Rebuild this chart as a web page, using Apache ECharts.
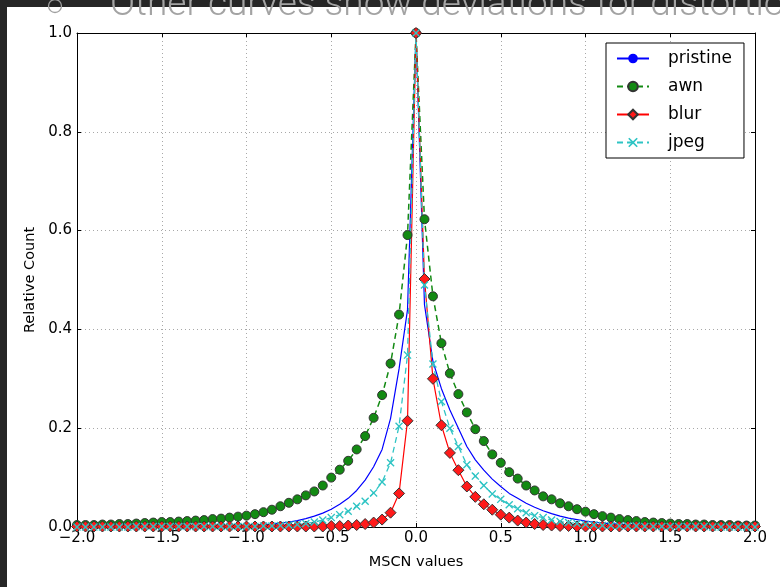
<!DOCTYPE html>
<html>
<head>
<meta charset="utf-8">
<script src="https://cdn.jsdelivr.net/npm/echarts@6/dist/echarts.min.js"></script>
<style>
html,body{margin:0;padding:0;background:#fff;}
#chart{width:780px;height:587px;}
</style>
</head>
<body>
<div id="chart"></div>
<script>
// ---- data ----
const xValues = [-2.00,-1.95,-1.90,-1.85,-1.80,-1.75,-1.70,-1.65,-1.60,-1.55,
  -1.50,-1.45,-1.40,-1.35,-1.30,-1.25,-1.20,-1.15,-1.10,-1.05,
  -1.00,-0.95,-0.90,-0.85,-0.80,-0.75,-0.70,-0.65,-0.60,-0.55,
  -0.50,-0.45,-0.40,-0.35,-0.30,-0.25,-0.20,-0.15,-0.10,-0.05,
  0.00,
  0.05,0.10,0.15,0.20,0.25,0.30,0.35,0.40,0.45,0.50,
  0.55,0.60,0.65,0.70,0.75,0.80,0.85,0.90,0.95,1.00,
  1.05,1.10,1.15,1.20,1.25,1.30,1.35,1.40,1.45,1.50,
  1.55,1.60,1.65,1.70,1.75,1.80,1.85,1.90,1.95,2.00];

const pristine = [0.000,0.000,0.000,0.000,0.000,0.001,0.001,0.001,0.001,0.001,
  0.001,0.001,0.001,0.001,0.001,0.002,0.002,0.002,0.002,0.002,
  0.003,0.004,0.005,0.006,0.008,0.010,0.013,0.017,0.022,0.028,
  0.036,0.046,0.058,0.074,0.095,0.122,0.157,0.220,0.320,0.440,
  1.000,
  0.450,0.335,0.280,0.237,0.200,0.163,0.136,0.115,0.097,0.082,
  0.068,0.058,0.048,0.040,0.033,0.027,0.022,0.018,0.015,0.012,
  0.010,0.008,0.007,0.006,0.005,0.004,0.003,0.003,0.002,0.002,
  0.002,0.001,0.001,0.001,0.001,0.001,0.001,0.000,0.000,0.000];

const awn = [0.004,0.004,0.004,0.005,0.005,0.006,0.006,0.007,0.008,0.009,
  0.010,0.010,0.011,0.012,0.013,0.014,0.016,0.017,0.019,0.021,
  0.023,0.026,0.030,0.035,0.042,0.049,0.056,0.064,0.072,0.084,
  0.100,0.116,0.134,0.157,0.184,0.221,0.267,0.331,0.430,0.591,
  1.000,
  0.623,0.467,0.372,0.311,0.269,0.232,0.198,0.174,0.147,0.130,
  0.111,0.098,0.084,0.074,0.062,0.056,0.048,0.042,0.036,0.031,
  0.026,0.022,0.019,0.016,0.014,0.012,0.010,0.009,0.008,0.007,
  0.006,0.006,0.005,0.005,0.004,0.004,0.004,0.003,0.003,0.003];

const blur = [0.001,0.001,0.001,0.001,0.001,0.001,0.001,0.001,0.001,0.001,
  0.001,0.001,0.001,0.001,0.001,0.001,0.001,0.001,0.001,0.001,
  0.001,0.001,0.001,0.001,0.001,0.001,0.001,0.001,0.001,0.001,
  0.002,0.002,0.003,0.004,0.006,0.009,0.015,0.029,0.068,0.215,
  1.000,
  0.502,0.300,0.206,0.150,0.115,0.082,0.061,0.046,0.035,0.025,
  0.019,0.013,0.009,0.006,0.004,0.003,0.002,0.002,0.001,0.001,
  0.001,0.001,0.001,0.001,0.001,0.001,0.001,0.001,0.001,0.001,
  0.001,0.001,0.001,0.001,0.001,0.001,0.001,0.001,0.001,0.001];

const jpeg = [0.000,0.000,0.000,0.000,0.000,0.000,0.000,0.001,0.001,0.001,
  0.001,0.001,0.001,0.001,0.001,0.001,0.001,0.001,0.001,0.001,
  0.001,0.001,0.002,0.002,0.003,0.004,0.005,0.007,0.010,0.014,
  0.019,0.025,0.032,0.042,0.052,0.069,0.091,0.130,0.204,0.348,
  1.000,
  0.490,0.330,0.254,0.200,0.163,0.126,0.103,0.084,0.067,0.056,
  0.045,0.037,0.029,0.023,0.019,0.014,0.011,0.009,0.007,0.005,
  0.004,0.003,0.003,0.002,0.002,0.002,0.001,0.001,0.001,0.001,
  0.001,0.001,0.001,0.001,0.000,0.000,0.000,0.000,0.000,0.000];

const seriesNames = ['pristine','awn','blur','jpeg'];
const xTickLabels = ['\u22122.0','\u22121.5','\u22121.0','\u22120.5','0.0','0.5','1.0','1.5','2.0'];
const yTickLabels = ['0.0','0.2','0.4','0.6','0.8','1.0'];
const xAxisTitle = 'MSCN values';
const yAxisTitle = 'Relative Count';
const slideText = 'Other curves show deviations for distortions';

// ---- chart ----
const pairs = arr => xValues.map((x, i) => [x, arr[i]]);
const xFmt = v => xTickLabels[Math.round((v + 2) / 0.5)] || '';
const yFmt = v => yTickLabels[Math.round(v / 0.2)] || '';
const FONT = 'DejaVu Sans';
const xMark = 'path://M0,1.2 L1.2,0 L5,3.8 L8.8,0 L10,1.2 L6.2,5 L10,8.8 L8.8,10 L5,6.2 L1.2,10 L0,8.8 L3.8,5 Z';

const chart = echarts.init(document.getElementById('chart'), null, {renderer: 'canvas'});
const gridLine = {show: true, lineStyle: {color: '#a8a8a8', type: [1, 3], width: 1}};
const frameLine = {show: true, onZero: false, lineStyle: {color: '#000', width: 1}};
const tick = {show: true, inside: true, length: 4, lineStyle: {color: '#000'}};
chart.setOption({
  animation: false,
  backgroundColor: '#ffffff',
  grid: {left: 77, right: 25, top: 33, bottom: 60, containLabel: false},
  xAxis: [{
    type: 'value', min: -2, max: 2, interval: 0.5,
    axisLine: frameLine, axisTick: tick,
    axisLabel: {formatter: xFmt, color: '#000', fontFamily: FONT, fontSize: 15, margin: 4},
    splitLine: gridLine,
    name: xAxisTitle, nameLocation: 'middle', nameGap: 28,
    nameTextStyle: {color: '#000', fontFamily: FONT, fontSize: 14.5}
  }, {
    type: 'value', min: -2, max: 2, interval: 0.5, position: 'top',
    axisLine: frameLine, axisTick: tick,
    axisLabel: {show: false}, splitLine: {show: false}
  }],
  yAxis: [{
    type: 'value', min: 0, max: 1, interval: 0.2, position: 'left',
    axisLine: frameLine, axisTick: tick,
    axisLabel: {formatter: yFmt, color: '#000', fontFamily: FONT, fontSize: 15, margin: 5},
    splitLine: gridLine,
    name: yAxisTitle, nameLocation: 'middle', nameGap: 37,
    nameTextStyle: {color: '#000', fontFamily: FONT, fontSize: 14.5}
  }, {
    type: 'value', min: 0, max: 1, interval: 0.2, position: 'right',
    axisLine: frameLine, axisTick: tick,
    axisLabel: {show: false}, splitLine: {show: false}
  }],
  legend: {
    left: 606, top: 43, orient: 'vertical',
    data: seriesNames,
    backgroundColor: '#fff', borderColor: '#000', borderWidth: 1, borderRadius: 0,
    padding: [7, 12, 7, 10], itemGap: 11, itemWidth: 32, itemHeight: 12,
    selectedMode: false,
    textStyle: {color: '#000', fontFamily: FONT, fontSize: 17, lineHeight: 17, padding: [0, 0, 0, 14]}
  },
  graphic: [
    {type: 'rect', shape: {x: 0, y: 0, width: 780, height: 7}, style: {fill: '#262626'}, z: 10},
    {type: 'rect', shape: {x: 0, y: 0, width: 7, height: 587}, style: {fill: '#262626'}, z: 10},
    {type: 'circle', shape: {cx: 55, cy: 6, r: 6.5}, style: {fill: 'none', stroke: '#a0a0a0', lineWidth: 1.3}, z: 11},
    {type: 'text', x: 110, y: 6, z: 11,
      style: {text: slideText, fill: '#a3a3a3', font: '300 37px Roboto', verticalAlign: 'middle', align: 'left'}}
  ],
  series: [
    {name: 'pristine', type: 'line', data: pairs(pristine), showSymbol: false, symbol: 'none',
      lineStyle: {color: '#0000ff', width: 1.2}, itemStyle: {color: '#0000ff'}},
    {name: 'awn', type: 'line', data: pairs(awn), symbol: 'circle', symbolSize: 9,
      lineStyle: {color: '#138a13', width: 1.5, type: [6, 4]},
      itemStyle: {color: '#138a13', borderColor: '#333', borderWidth: 1}},
    {name: 'blur', type: 'line', data: pairs(blur), symbol: 'diamond', symbolSize: 11,
      lineStyle: {color: '#ff0000', width: 1.2},
      itemStyle: {color: '#ff1a1a', borderColor: '#333', borderWidth: 1}},
    {name: 'jpeg', type: 'line', data: pairs(jpeg), symbol: xMark, symbolSize: 8,
      lineStyle: {color: '#2ec4c4', width: 1.3, type: [6, 4]},
      itemStyle: {color: '#2ec4c4'}}
  ]
});
</script>
</body>
</html>
